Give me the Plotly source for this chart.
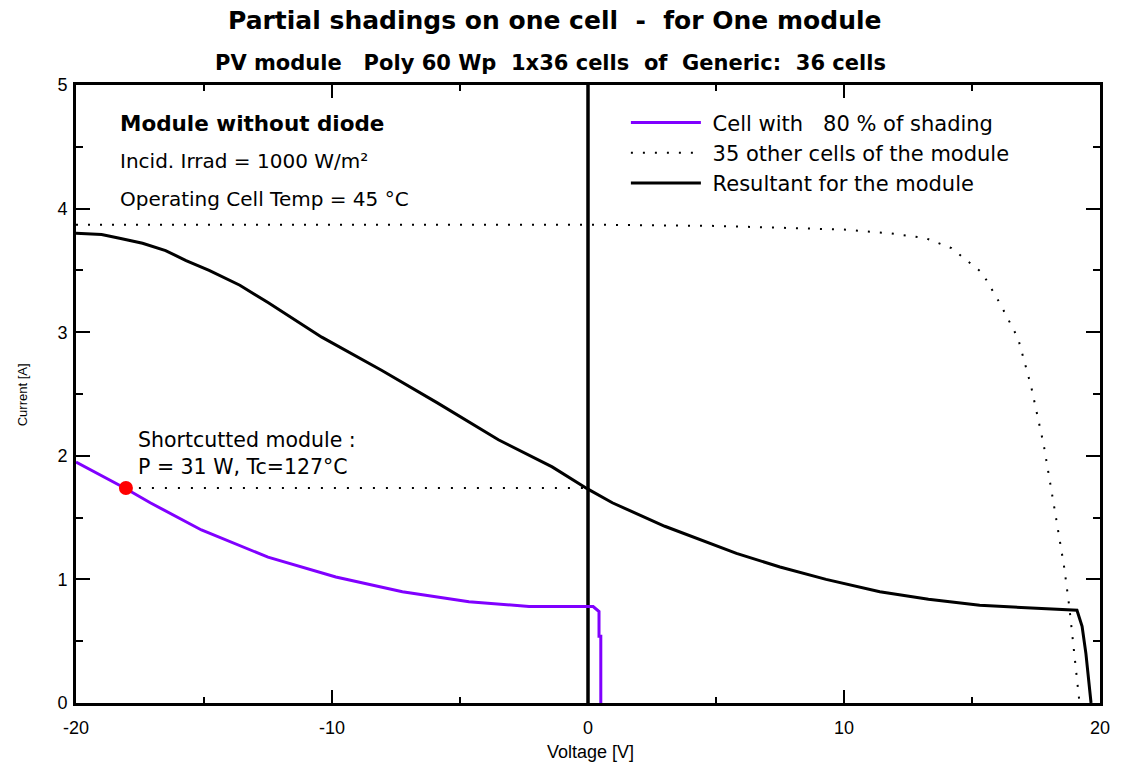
import plotly.graph_objects as go

# ---- data ----
resultant_v = [-20, -19, -18.3, -17.4, -16.5, -15.7, -14.8, -13.6, -12.5, -10.4, -8.05, -5.9, -3.5, -1.4, 0,
               0.95, 3.0, 5.8, 7.5, 9.3, 11.4, 13.3, 15.3, 17.3, 19.1, 19.3, 19.45, 19.65]
resultant_i = [3.80, 3.79, 3.76, 3.72, 3.66, 3.58, 3.50, 3.38, 3.24, 2.96, 2.69, 2.43, 2.13, 1.91, 1.73,
               1.62, 1.43, 1.21, 1.10, 1.00, 0.90, 0.84, 0.79, 0.77, 0.75, 0.62, 0.40, 0.0]

other_v = [-20, -10, 0, 5, 8.2, 10, 11.8, 13.2, 14.2, 15.4, 16.1, 16.8, 17.3, 17.8, 18.2, 18.6, 18.8, 19.0, 19.2]
other_i = [3.87, 3.87, 3.87, 3.86, 3.84, 3.83, 3.80, 3.76, 3.68, 3.48, 3.23, 2.95, 2.57, 2.09, 1.60, 1.10, 0.78, 0.37, 0.0]

shaded_v = [-20, -18.1, -17.1, -15.1, -12.5, -9.85, -7.25, -4.65, -2.3, 0, 0.2, 0.43, 0.43, 0.5, 0.5]
shaded_i = [1.95, 1.74, 1.62, 1.40, 1.18, 1.02, 0.90, 0.82, 0.78, 0.78, 0.78, 0.74, 0.54, 0.54, 0.0]

short_v = [-18.05, 0]
short_i = [1.74, 1.74]

zero_v = [0, 0]
zero_i = [0, 5]

x_ticks = [-20, -10, 0, 10, 20]
x_tick_labels = ["-20", "-10", "0", "10", "20"]
y_ticks = [0, 1, 2, 3, 4, 5]

SANS = "Liberation Sans, Arial, sans-serif"
WIDE = "DejaVu Sans, Verdana, sans-serif"

fig = go.Figure()

fig.add_trace(go.Scatter(x=zero_v, y=zero_i, mode="lines", line=dict(color="black", width=3.5),
                         showlegend=False, hoverinfo="skip"))
fig.add_trace(go.Scatter(x=short_v, y=short_i, mode="lines",
                         line=dict(color="black", width=2, dash="2px,11px"),
                         showlegend=False, hoverinfo="skip"))
fig.add_trace(go.Scatter(x=shaded_v, y=shaded_i, mode="lines", name=" Cell with   80 % of shading",
                         line=dict(color="#8000ff", width=3)))
fig.add_trace(go.Scatter(x=other_v, y=other_i, mode="lines", name=" 35 other cells of the module",
                         line=dict(color="black", width=2, dash="2px,10px")))
fig.add_trace(go.Scatter(x=resultant_v, y=resultant_i, mode="lines", name=" Resultant for the module",
                         line=dict(color="black", width=3)))
fig.add_trace(go.Scatter(x=[short_v[0]], y=[short_i[0]], mode="markers",
                         marker=dict(color="#ff0000", size=14), showlegend=False))

fig.update_layout(
    width=1121, height=767,
    margin=dict(l=76, r=21, t=85, b=64),
    paper_bgcolor="white", plot_bgcolor="white",
    font=dict(family=SANS, color="black", size=18),
    legend=dict(x=0.537, y=0.972, xanchor="left", yanchor="top", bgcolor="rgba(0,0,0,0)",
                font=dict(size=21, family=WIDE), tracegroupgap=0, itemwidth=70),
    showlegend=True,
)

def note(text, x, y, size, family=SANS, **kw):
    fig.add_annotation(text=text, xref="paper", yref="paper", x=x, y=y,
                       xanchor=kw.pop("xanchor", "left"), yanchor="middle", showarrow=False,
                       font=dict(size=size, family=family), **kw)

note("<b>Partial shadings on one cell  -  for One module</b>", 0.467, 1.105, 25, WIDE, xanchor="center")
note("<b>PV module   Poly 60 Wp  1x36 cells  of  Generic:  36 cells</b>", 0.463, 1.036, 21, WIDE, xanchor="center")
note("<b>Module without diode</b>", 0.041, 0.9385, 21.5, WIDE)
note("Incid. Irrad = 1000 W/m²", 0.041, 0.877, 20, WIDE)
note("Operating Cell Temp = 45 °C", 0.041, 0.8155, 20, WIDE)
note("Shortcutted module :<br>P = 31 W, Tc=127°C", 0.0586, 0.4045, 20.5, WIDE, align="left")
note("Voltage [V]", 0.502, -0.079, 18, SANS, xanchor="center")
note("Current [A]", -0.0527, 0.498, 13, SANS, xanchor="center", textangle=-90)

fig.update_xaxes(range=[-20, 20], tickvals=x_ticks, ticktext=x_tick_labels, ticks="inside", ticklen=13,
                 tickwidth=1.5, tickcolor="black", ticklabelstandoff=6,
                 minor=dict(dtick=5, ticklen=6, ticks="inside", tickcolor="black", tickwidth=1.5),
                 showline=True, linecolor="black", linewidth=3, mirror="ticks",
                 showgrid=False, zeroline=False, tickfont=dict(size=18, family=SANS))
fig.update_yaxes(range=[0, 5], tickvals=y_ticks, ticks="inside", ticklen=14,
                 tickwidth=1.5, tickcolor="black", ticklabelstandoff=2,
                 minor=dict(dtick=0.5, ticklen=7, ticks="inside", tickcolor="black", tickwidth=1.5),
                 showline=True, linecolor="black", linewidth=3, mirror="ticks",
                 showgrid=False, zeroline=False, tickfont=dict(size=18, family=SANS))

fig.write_html("out.html", config={"displayModeBar": False},
               post_script="document.body.style.margin='0';document.body.style.overflow='hidden';")
